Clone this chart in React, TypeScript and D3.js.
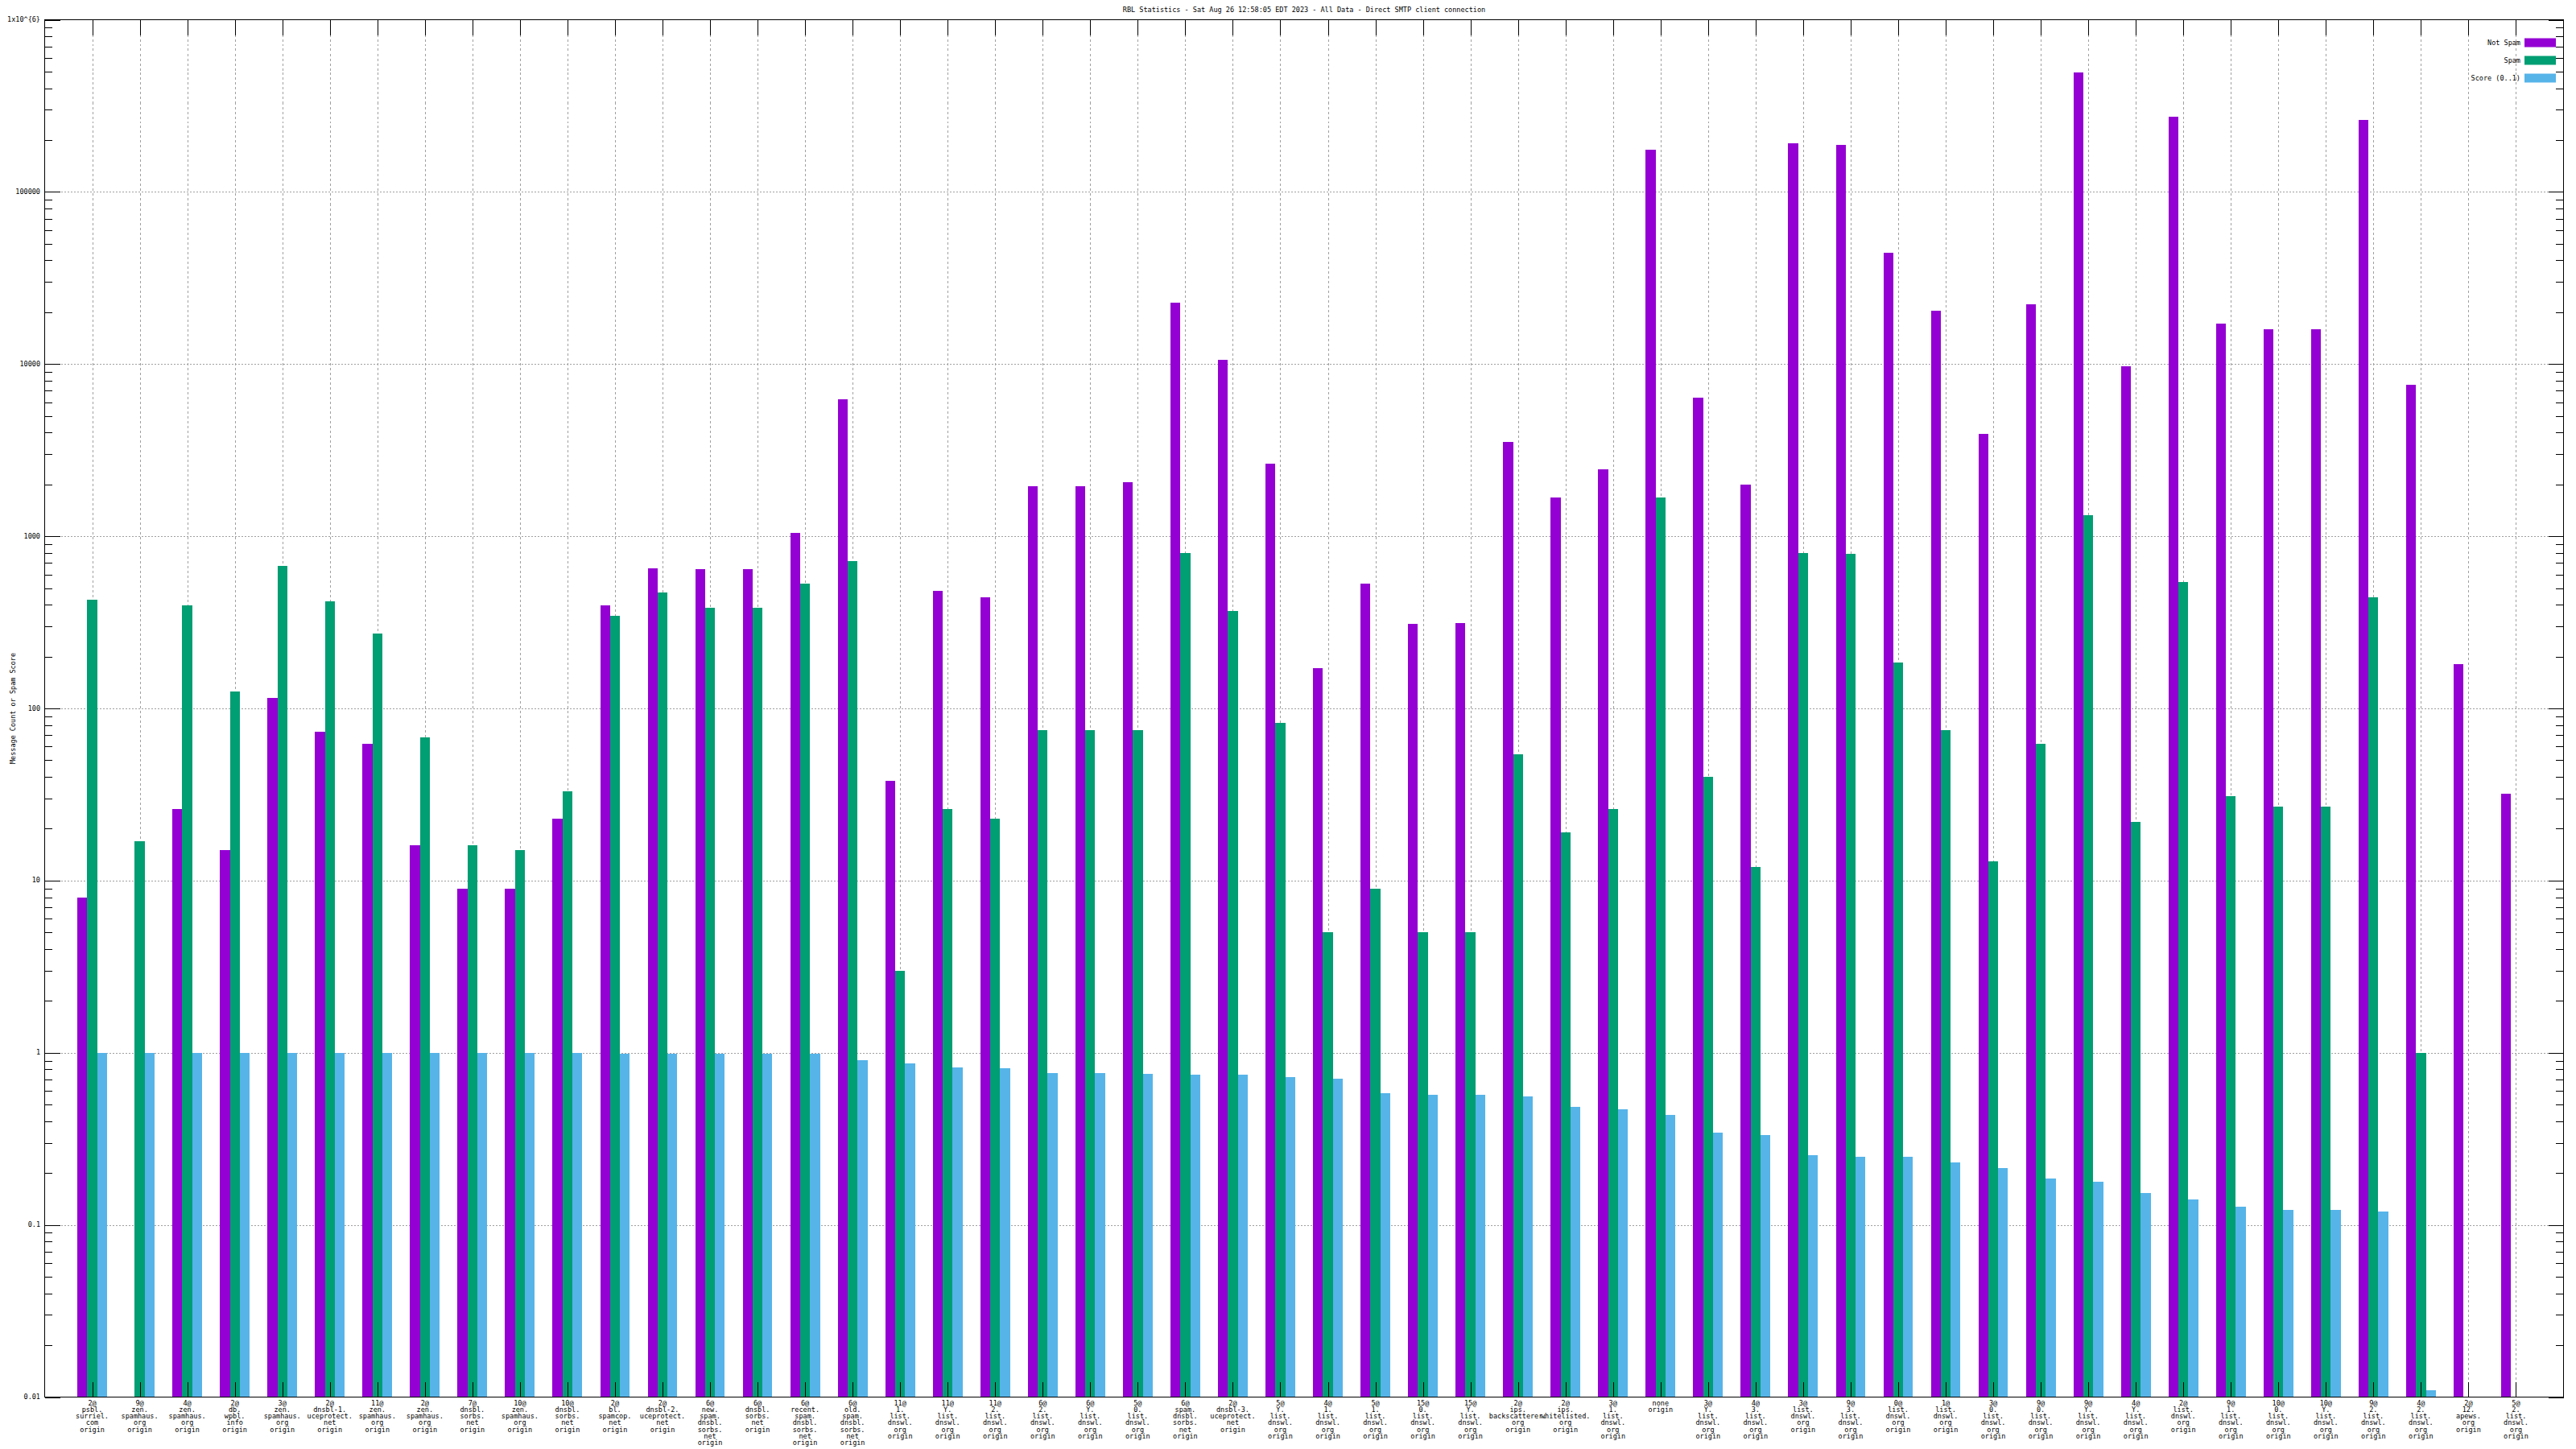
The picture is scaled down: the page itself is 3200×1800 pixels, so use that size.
import * as d3 from "d3";
import React from "react";

const categories = [
  "2@\npsbl.\nsurriel.\ncom\norigin",
  "9@\nzen.\nspamhaus.\norg\norigin",
  "4@\nzen.\nspamhaus.\norg\norigin",
  "2@\ndb.\nwpbl.\ninfo\norigin",
  "3@\nzen.\nspamhaus.\norg\norigin",
  "2@\ndnsbl-1.\nuceprotect.\nnet\norigin",
  "11@\nzen.\nspamhaus.\norg\norigin",
  "2@\nzen.\nspamhaus.\norg\norigin",
  "7@\ndnsbl.\nsorbs.\nnet\norigin",
  "10@\nzen.\nspamhaus.\norg\norigin",
  "10@\ndnsbl.\nsorbs.\nnet\norigin",
  "2@\nbl.\nspamcop.\nnet\norigin",
  "2@\ndnsbl-2.\nuceprotect.\nnet\norigin",
  "6@\nnew.\nspam.\ndnsbl.\nsorbs.\nnet\norigin",
  "6@\ndnsbl.\nsorbs.\nnet\norigin",
  "6@\nrecent.\nspam.\ndnsbl.\nsorbs.\nnet\norigin",
  "6@\nold.\nspam.\ndnsbl.\nsorbs.\nnet\norigin",
  "11@\n1.\nlist.\ndnswl.\norg\norigin",
  "11@\nY.\nlist.\ndnswl.\norg\norigin",
  "11@\n2.\nlist.\ndnswl.\norg\norigin",
  "6@\n2.\nlist.\ndnswl.\norg\norigin",
  "6@\nY.\nlist.\ndnswl.\norg\norigin",
  "5@\n0.\nlist.\ndnswl.\norg\norigin",
  "6@\nspam.\ndnsbl.\nsorbs.\nnet\norigin",
  "2@\ndnsbl-3.\nuceprotect.\nnet\norigin",
  "5@\nY.\nlist.\ndnswl.\norg\norigin",
  "4@\n1.\nlist.\ndnswl.\norg\norigin",
  "5@\n1.\nlist.\ndnswl.\norg\norigin",
  "15@\n0.\nlist.\ndnswl.\norg\norigin",
  "15@\nY.\nlist.\ndnswl.\norg\norigin",
  "2@\nips.\nbackscatterer.\norg\norigin",
  "2@\nips.\nwhitelisted.\norg\norigin",
  "3@\n1.\nlist.\ndnswl.\norg\norigin",
  "none\norigin",
  "3@\nY.\nlist.\ndnswl.\norg\norigin",
  "4@\n3.\nlist.\ndnswl.\norg\norigin",
  "3@\nlist.\ndnswl.\norg\norigin",
  "9@\n3.\nlist.\ndnswl.\norg\norigin",
  "0@\nlist.\ndnswl.\norg\norigin",
  "1@\nlist.\ndnswl.\norg\norigin",
  "3@\n0.\nlist.\ndnswl.\norg\norigin",
  "9@\n0.\nlist.\ndnswl.\norg\norigin",
  "9@\nY.\nlist.\ndnswl.\norg\norigin",
  "4@\nY.\nlist.\ndnswl.\norg\norigin",
  "2@\nlist.\ndnswl.\norg\norigin",
  "9@\n1.\nlist.\ndnswl.\norg\norigin",
  "10@\n0.\nlist.\ndnswl.\norg\norigin",
  "10@\nY.\nlist.\ndnswl.\norg\norigin",
  "9@\n2.\nlist.\ndnswl.\norg\norigin",
  "4@\n2.\nlist.\ndnswl.\norg\norigin",
  "2@\n12.\napews.\norg\norigin",
  "5@\n2.\nlist.\ndnswl.\norg\norigin",
];

const notSpam: (number | null)[] = [
  8, null, 26, 15, 115, 73, 62, 16, 9, 9, 23, 397, 650, 647, 647, 1051, 6240,
  38, 483, 443, 1960, 1960, 2070, 22800, 10600, 2634, 171, 532, 310, 314, 3520,
  1671, 2438, 176000, 6370, 2005, 192000, 188000, 44100, 20400, 3930, 22300,
  495000, 9680, 273000, 17100, 16000, 16000, 262000, 7600, 180, 32,
];

const spam: (number | null)[] = [
  427, 17, 397, 125, 673, 420, 272, 68, 16, 15, 33, 345, 472, 385, 385, 532, 721,
  3, 26, 23, 75, 75, 75, 800, 368, 82, 5, 9, 5, 5, 54, 19, 26, 1687, 40, 12, 800,
  786, 184, 75, 13, 62, 1331, 22, 544, 31, 27, 27, 443, 1, null, null,
];

const score: (number | null)[] = [
  1, 1, 1, 1, 1, 1, 0.993, 0.993, 0.993, 0.993, 0.993, 0.982, 0.982, 0.982,
  0.982, 0.982, 0.901, 0.863, 0.818, 0.809, 0.759, 0.759, 0.75, 0.743, 0.743,
  0.719, 0.704, 0.58, 0.567, 0.567, 0.555, 0.483, 0.468, 0.434, 0.342, 0.331,
  0.253, 0.25, 0.25, 0.23, 0.215, 0.185, 0.179, 0.154, 0.14, 0.128, 0.122,
  0.122, 0.12, 0.011, null, null,
];

const seriesNames = ["Not Spam", "Spam", "Score (0..1)"];
const seriesColors = ["#9400d3", "#009e73", "#56b4e9"];
const yTickLabels = ["0.01", "0.1", "1", "10", "100", "1000", "10000", "100000", "1x10^{6}"];

const title = "RBL Statistics - Sat Aug 26 12:58:05 EDT 2023 - All Data - Direct SMTP client connection";

const W = 3200;
const H = 1800;
const left = 55.5;
const right = 3184.5;
const top = 24.5;
const bottom = 1735.5;
const font = "'DejaVu Sans Mono', monospace";
const fs = 8.5;

const App = () => {
  const x = d3.scaleLinear().domain([-1, categories.length]).range([left, right]);
  const y = d3.scaleLog().domain([0.01, 1e6]).range([bottom, top]);
  const bw = 0.208;
  const series = [notSpam, spam, score];

  const majors = d3.range(-2, 7).map((e) => Math.pow(10, e));
  const minors: number[] = [];
  d3.range(-2, 6).forEach((e) => {
    for (let m = 2; m <= 9; m++) minors.push(m * Math.pow(10, e));
  });

  const px = (v: number) => Math.round(v) + 0.5;

  return (
    <svg
      width={W}
      height={H}
      style={{ position: "absolute", left: 0, top: 0, background: "#fff" }}
    >
      <rect x={0} y={0} width={W} height={H} fill="#fff" />
      {/* grid */}
      <g stroke="#a0a0a0" strokeWidth={1} shapeRendering="crispEdges">
        {majors.slice(1, -1).map((v) => (
          <line key={"gy" + v} x1={left} x2={right} y1={px(y(v))} y2={px(y(v))} strokeDasharray="2,2" />
        ))}
        {categories.map((_, i) => (
          <line key={"gx" + i} x1={px(x(i))} x2={px(x(i))} y1={top} y2={bottom} strokeDasharray="3,3" />
        ))}
      </g>
      {/* bars */}
      <g shapeRendering="crispEdges">
        {series.map((vals, s) =>
          vals.map((v, i) => {
            if (v == null || v <= 0) return null;
            const x0 = x(i + (s - 1.5) * bw);
            const x1 = x(i + (s - 0.5) * bw);
            const yt = y(v);
            return (
              <rect
                key={s + "-" + i}
                x={x0}
                y={yt}
                width={x1 - x0}
                height={bottom - yt}
                fill={seriesColors[s]}
              />
            );
          })
        )}
      </g>
      {/* border and ticks */}
      <g stroke="#000" strokeWidth={1} fill="none" shapeRendering="crispEdges">
        <rect x={left} y={top} width={right - left} height={bottom - top} />
        {majors.map((v) => (
          <g key={"ty" + v}>
            <line x1={left} x2={left + 19} y1={px(y(v))} y2={px(y(v))} />
            <line x1={right} x2={right - 19} y1={px(y(v))} y2={px(y(v))} />
          </g>
        ))}
        {minors.map((v) => (
          <g key={"my" + v}>
            <line x1={left} x2={left + 9.5} y1={px(y(v))} y2={px(y(v))} />
            <line x1={right} x2={right - 9.5} y1={px(y(v))} y2={px(y(v))} />
          </g>
        ))}
        {categories.map((_, i) => (
          <g key={"tx" + i}>
            <line x1={px(x(i))} x2={px(x(i))} y1={top} y2={top + 19} />
            <line x1={px(x(i))} x2={px(x(i))} y1={bottom} y2={bottom - 19} />
          </g>
        ))}
      </g>
      {/* text */}
      <g fontFamily={font} fontSize={fs} fill="#000">
        <text x={(left + right) / 2} y={12} textAnchor="middle" dominantBaseline="middle">
          {title}
        </text>
        {majors.map((v, k) => (
          <text key={"ly" + v} x={50} y={y(v)} textAnchor="end" dominantBaseline="middle">
            {yTickLabels[k]}
          </text>
        ))}
        {categories.map((c, i) => (
          <text key={"lx" + i} x={x(i)} textAnchor="middle">
            {c.split("\n").map((line, j) => (
              <tspan key={j} x={x(i)} y={1743 + j * 8.25} dominantBaseline="middle">
                {line}
              </tspan>
            ))}
          </text>
        ))}
        <text
          transform={`translate(16,${(top + bottom) / 2}) rotate(-90)`}
          textAnchor="middle"
          dominantBaseline="middle"
        >
          Message Count or Spam Score
        </text>
        {seriesNames.map((n, s) => (
          <g key={"lg" + n}>
            <text x={3131} y={53 + s * 22} textAnchor="end" dominantBaseline="middle">
              {n}
            </text>
            <rect x={3136} y={53 + s * 22 - 5.5} width={39} height={11} fill={seriesColors[s]} />
          </g>
        ))}
      </g>
    </svg>
  );
};

export default App;
